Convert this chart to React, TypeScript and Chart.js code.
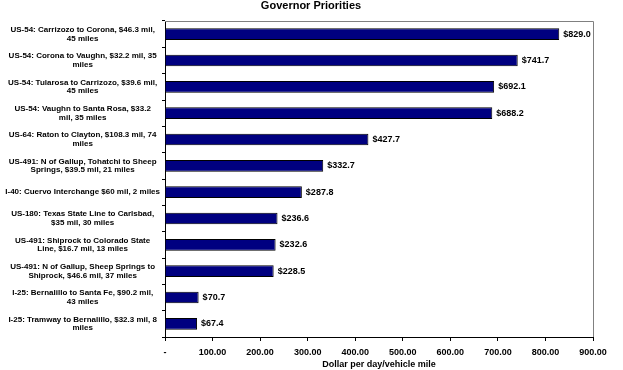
import React, { useEffect, useRef } from "react";
import { Chart, registerables } from "chart.js";

Chart.register(...registerables);

const chartTitle = "Governor Priorities";
const xAxisTitle = "Dollar per day/vehicle mile";

const categories: string[][] = [
  ["US-54: Carrizozo to Corona, $46.3 mil,", "45 miles"],
  ["US-54: Corona to Vaughn, $32.2 mil, 35", "miles"],
  ["US-54: Tularosa to Carrizozo, $39.6 mil,", "45 miles"],
  ["US-54: Vaughn to Santa Rosa, $33.2", "mil, 35 miles"],
  ["US-64: Raton to Clayton, $108.3 mil, 74", "miles"],
  ["US-491: N of Gallup, Tohatchi to Sheep", "Springs, $39.5 mil, 21 miles"],
  ["I-40: Cuervo Interchange $60 mil, 2 miles"],
  ["US-180: Texas State Line to Carlsbad,", "$35 mil, 30 miles"],
  ["US-491: Shiprock to Colorado State", "Line, $16.7 mil, 13 miles"],
  ["US-491: N of Gallup, Sheep Springs to", "Shiprock, $46.6 mil, 37 miles"],
  ["I-25: Bernalillo to Santa Fe, $90.2 mil,", "43 miles"],
  ["I-25: Tramway to Bernalillo, $32.3 mil, 8", "miles"],
];

const values: number[] = [829.0, 741.7, 692.1, 688.2, 427.7, 332.7, 287.8, 236.6, 232.6, 228.5, 70.7, 67.4];

const xMin = 0;
const xMax = 900;
const xStep = 100;

const FONT = "'Liberation Sans', Arial, sans-serif";

const decorPlugin = {
  id: "decor",
  afterDatasetsDraw(chart: any) {
    const { ctx, chartArea } = chart;
    const meta = chart.getDatasetMeta(0);
    ctx.save();
    ctx.beginPath();
    ctx.rect(chartArea.left, chartArea.top - 2, chartArea.right - chartArea.left, chartArea.bottom - chartArea.top + 4);
    ctx.clip();
    ctx.fillStyle = "#000000";
    ctx.font = `bold 9px ${FONT}`;
    ctx.textAlign = "left";
    ctx.textBaseline = "middle";
    meta.data.forEach((bar: any, i: number) => {
      ctx.fillText("$" + values[i].toFixed(1), bar.x + 4, bar.y);
    });
    ctx.restore();

    ctx.save();
    ctx.strokeStyle = "#808080";
    ctx.lineWidth = 1;
    ctx.beginPath();
    ctx.moveTo(chartArea.left, chartArea.top + 0.5);
    ctx.lineTo(Math.round(chartArea.right) + 0.5, chartArea.top + 0.5);
    ctx.lineTo(Math.round(chartArea.right) + 0.5, chartArea.bottom);
    ctx.stroke();
    ctx.restore();
  },
  afterDraw(chart: any) {
    const { ctx } = chart;
    ctx.save();
    ctx.fillStyle = "#000000";
    ctx.font = `bold 11px ${FONT}`;
    ctx.textAlign = "center";
    ctx.textBaseline = "middle";
    ctx.fillText(chartTitle, 311, 6);
    ctx.restore();
  },
};

export default function App() {
  const canvasRef = useRef<HTMLCanvasElement | null>(null);

  useEffect(() => {
    document.body.style.margin = "0";
    const canvas = canvasRef.current;
    if (!canvas) return;
    const chart = new Chart(canvas, {
      type: "bar",
      data: {
        labels: categories,
        datasets: [
          {
            data: values,
            backgroundColor: "#000080",
            borderColor: "#000000",
            borderWidth: 1,
            barPercentage: 0.44,
            categoryPercentage: 1.0,
          },
        ],
      },
      options: {
        indexAxis: "y",
        responsive: false,
        animation: false,
        devicePixelRatio: 1,
        layout: { padding: { top: 21, right: 30, bottom: 0, left: 0 } },
        plugins: {
          legend: { display: false },
          title: { display: false },
          tooltip: { enabled: false },
        },
        scales: {
          x: {
            type: "linear",
            min: xMin,
            max: xMax,
            afterFit(scale: any) {
              scale.height = 33;
            },
            ticks: {
              stepSize: xStep,
              color: "#000000",
              padding: 6,
              font: { family: FONT, size: 9, weight: "bold" },
              callback: (v: any) => (Number(v) === 0 ? "-" : Number(v).toFixed(2)),
            },
            grid: {
              drawOnChartArea: false,
              drawTicks: true,
              tickLength: 4,
              color: "#000000",
            },
            border: { display: true, color: "#000000" },
            title: {
              display: true,
              text: xAxisTitle,
              color: "#000000",
              padding: { top: 0, bottom: 0 },
              font: { family: FONT, size: 9, weight: "bold" },
            },
          },
          y: {
            type: "category",
            afterFit(scale: any) {
              scale.width = 165;
            },
            ticks: {
              color: "#000000",
              padding: 2,
              crossAlign: "center",
              autoSkip: false,
              font: { family: FONT, size: 8, weight: "bold", lineHeight: 1.06 },
            },
            grid: {
              offset: true,
              drawOnChartArea: false,
              drawTicks: true,
              tickLength: 3,
              color: "#000000",
            },
            border: { display: true, color: "#000000" },
          },
        },
      },
      plugins: [decorPlugin],
    } as any);
    return () => chart.destroy();
  }, []);

  return (
    <div style={{ width: 623, height: 370, background: "#ffffff" }}>
      <canvas ref={canvasRef} width={623} height={370} style={{ display: "block" }} />
    </div>
  );
}
